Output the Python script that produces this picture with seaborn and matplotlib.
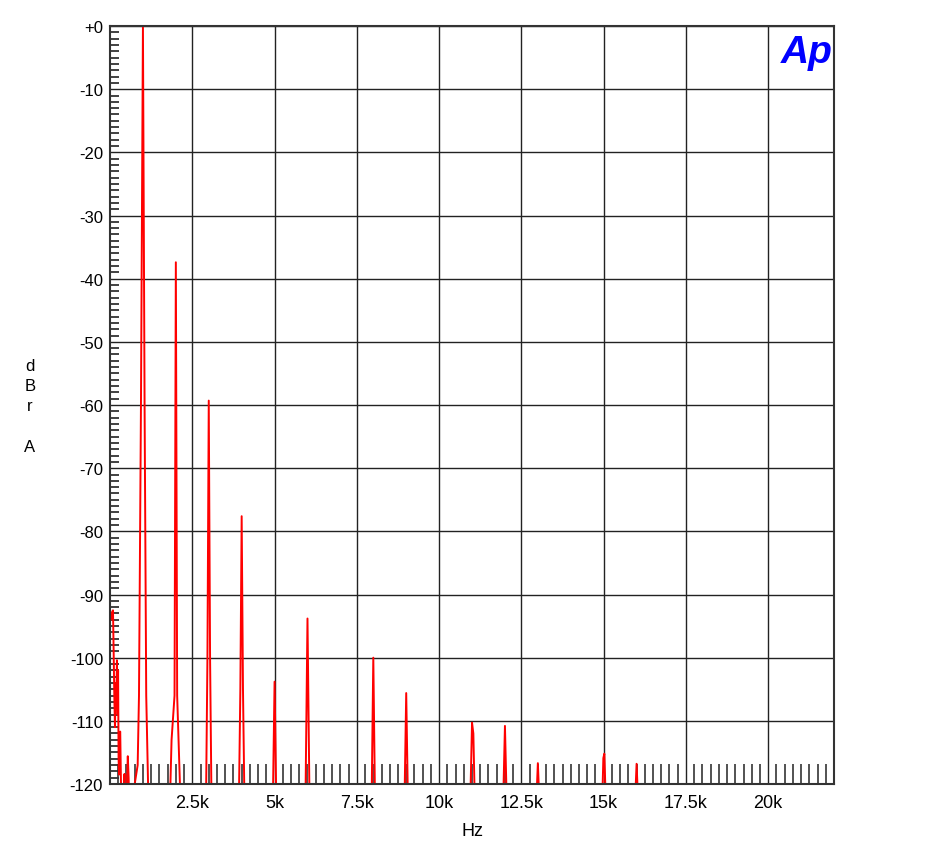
import pandas as pd
import matplotlib
matplotlib.use("Agg")
import matplotlib.pyplot as plt
import seaborn as sns
from matplotlib.ticker import MultipleLocator

# Espectro FFT (Hz, dBr A)
baja_hz = [30, 60, 90, 110, 130, 150, 170, 190, 210, 230, 245, 260, 275, 290, 310,
           330, 350, 380, 410, 440, 470, 510, 540, 565, 600, 650, 720, 810, 840]
baja_db = [-94.0, -92.8, -92.5, -99, -106, -111, -104, -107, -100.4, -109, -102, -116,
           -118.5, -112, -111.7, -119, -124, -130, -121, -118.4, -126, -121, -115.6,
           -119, -128, -131, -121, -118, -117]

armonicos_hz = [880, 940, 1000, 1050, 1100, 1160, 1300,
                1830, 1870, 1960, 2000, 2040, 2130, 2300,
                2920, 2960, 3000, 3040, 3080, 3300,
                3920, 3960, 4000, 4040, 4080, 4300,
                4950, 5000, 5050, 5300,
                5940, 6000, 6060, 6300,
                7950, 8000, 8050, 8300,
                8950, 9000, 9050, 9300,
                10950, 11000, 11040, 11080, 11300,
                11950, 12000, 12050, 12300,
                12960, 13000, 13040, 13300,
                14960, 14990, 15020, 15060, 15300,
                15960, 16000, 16040, 16300,
                22000]
armonicos_db = [-106, -60, 0.0, -60, -106, -121, -130,
                -121, -113, -106, -37.4, -106, -121, -130,
                -121, -100, -59.3, -100, -121, -130,
                -121, -105, -77.6, -105, -121, -130,
                -122, -103.8, -122, -130,
                -122, -93.8, -122, -130,
                -122, -100.0, -122, -130,
                -122, -105.6, -122, -130,
                -122, -110.3, -112, -122, -130,
                -122, -110.8, -122, -130,
                -122, -116.7, -122, -130,
                -122, -115.9, -115.2, -122, -130,
                -122, -116.8, -122, -130,
                -130]

df = pd.DataFrame({"Hz": baja_hz + armonicos_hz, "dBr": baja_db + armonicos_db})

sns.set_style("white")
plt.rcParams["font.family"] = ["Liberation Sans", "DejaVu Sans"]
plt.rcParams["text.color"] = "black"

fig = plt.figure(figsize=(9.42, 8.53), dpi=100)
ax = fig.add_axes([0.1168, 0.0797, 0.7686, 0.8886])

sns.lineplot(data=df, x="Hz", y="dBr", color="#ff0000", linewidth=1.4,
             estimator=None, sort=False, ax=ax)

ax.set_xlim(0, 22000)
ax.set_ylim(-120, 0)

ax.set_xticks([2500, 5000, 7500, 10000, 12500, 15000, 17500, 20000],
              ["2.5k", "5k", "7.5k", "10k", "12.5k", "15k", "17.5k", "20k"])
ax.set_yticks(list(range(0, -121, -10)),
              ["+0"] + [str(v) for v in range(-10, -121, -10)])
ax.xaxis.set_minor_locator(MultipleLocator(250))
ax.yaxis.set_minor_locator(MultipleLocator(1))

ax.tick_params(axis="both", which="major", length=0, colors="black")
ax.tick_params(axis="x", which="major", pad=7, labelsize=13)
ax.tick_params(axis="y", which="major", pad=5, labelsize=12)
ax.tick_params(axis="x", which="minor", direction="in", length=14.5, width=1.3,
               color="#444444", bottom=True)
ax.tick_params(axis="y", which="minor", direction="in", length=6.5, width=1.3,
               color="#333333", left=True)

ax.grid(True, which="major", color="#222222", linewidth=1.0)
for s in ax.spines.values():
    s.set_color("#333333")
    s.set_linewidth(1.5)

ax.set_xlabel("Hz", fontsize=13, labelpad=8, color="black")
ax.set_ylabel("")
fig.text(30 / 942, 1 - 407 / 853, "d\nB\nr\n\nA", ha="center", va="center",
         fontsize=12, linespacing=1.45, color="black")

ax.text(0.962, 0.966, "Ap", transform=ax.transAxes, ha="center", va="center",
        color="#0000ff", fontsize=28, fontweight="bold", fontstyle="italic")

fig.savefig("out.png", dpi=100)
